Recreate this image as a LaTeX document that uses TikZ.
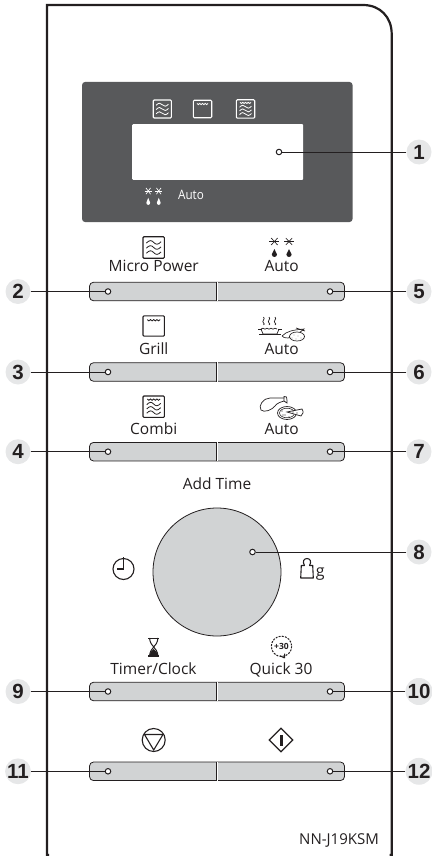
\documentclass[tikz,border=0pt]{standalone}
\usepackage{fontspec}
\setmainfont{Open Sans}
\newfontfamily\numfont{Liberation Sans}
\usetikzlibrary{shapes.geometric}
\definecolor{ink}{HTML}{231F20}
\definecolor{panelgrey}{HTML}{58595B}
\definecolor{keygrey}{HTML}{D1D3D4}
\definecolor{tagg}{HTML}{E6E7E8}
\newcommand{\wavy}[3]{% x, y, half width
  \draw[line width=.8pt] ({#1-#3},{#2+.6}) .. controls ({#1-#3*.6},{#2-2.2}) and ({#1-#3*.3},{#2-2.2}) .. ({#1},{#2}) .. controls ({#1+#3*.3},{#2+2.2}) and ({#1+#3*.6},{#2+2.2}) .. ({#1+#3},{#2-.6});}
\newcommand{\zigzag}[2]{% grill element
  \draw[line width=.85pt] ({#1-6},{#2}) -- ++(1.5,1.2) -- ++(1.5,-1.2) -- ++(1.5,1.2) -- ++(1.5,-1.2) -- ++(1.5,1.2) -- ++(1.5,-1.2) -- ++(1.5,1.2) -- ++(1.5,-1.2);}
\tikzset{
  x=1pt,y=-1pt,
  pics/microicon/.style={code={
    \draw[line width=1.1pt,rounded corners=1pt,pic actions] (-9.5,-9.5) rectangle (9.5,9.5);
    \begin{scope}[pic actions]\wavy{0}{-4.5}{6.5}\wavy{0}{0}{6.5}\wavy{0}{4.5}{6.5}\end{scope}}},
  pics/grillicon/.style={code={
    \draw[line width=1.1pt,rounded corners=1pt,pic actions] (-10,-9.5) rectangle (10,9.5);
    \begin{scope}[pic actions]\zigzag{0}{-6}\end{scope}}},
  pics/combiicon/.style={code={
    \draw[line width=1.1pt,rounded corners=1pt,pic actions] (-10,-10) rectangle (10,10);
    \begin{scope}[pic actions]\zigzag{0}{-7.2}\wavy{0}{-2.5}{6.5}\wavy{0}{1.5}{6.5}\wavy{0}{5.5}{6.5}\end{scope}}},
  pics/autoicon/.style={code={
    \begin{scope}[pic actions]
    \foreach \s in {-1,1}{
      \draw[line width=.65pt] ({\s*7.3-5},-5.5) -- ({\s*7.3+5},-5.5);
      \draw[line width=.65pt] ({\s*7.3-3.2},-9) -- ({\s*7.3+3.2},-2);
      \draw[line width=.65pt] ({\s*7.3+3.2},-9) -- ({\s*7.3-3.2},-2);
      \fill ({\s*7.3},2) -- ({\s*7.3+2.6},7.4) arc (0:180:2.6) -- cycle;
    }
    \end{scope}}},
  tagnode/.style={circle,fill=tagg,minimum size=25pt,inner sep=0pt,text=ink,font=\numfont\bfseries\fontsize{20.5}{20.5}\selectfont},
  dotnode/.style={circle,draw=ink,fill=white,line width=1pt,minimum size=5.5pt,inner sep=0pt},
  keybar/.style={draw=ink,fill=keygrey,rounded corners=4pt,line width=.8pt,minimum width=255pt,minimum height=18.5pt,inner sep=0pt},
  keysplit/.style={draw=ink,line width=.6pt,double=white,double distance=.6pt},
  lab/.style={text=ink,inner sep=0pt,anchor=base,font=\fontsize{15.5}{15.5}\selectfont},
  leader/.style={draw=ink,line width=1pt},
}
\begin{document}
\begin{tikzpicture}
\useasboundingbox (0,0) rectangle (431,856);
% panel
\draw[ink,line width=2.2pt] (49,855) -- (47,855) -- (47,5) -- (363,5) .. controls (380,5) and (391.7,17) .. (391.7,34) -- (391.7,855) -- (389.7,855);
% display
\node[fill=panelgrey,rounded corners=3pt,minimum width=270.5pt,minimum height=140pt,inner sep=0pt] (disp) at (217.3,152) {};
\node[fill=white,rounded corners=.8pt,minimum width=171pt,minimum height=55.5pt,inner sep=0pt] (screen) at (217.7,152) {};
\pic[draw=white,white,scale=.95] at (162.3,109) {microicon};
\pic[draw=white,white,scale=.92] at (202.5,109) {grillicon};
\pic[draw=white,white,scale=.92] at (245.5,109) {combiicon};
\pic[draw=white,fill=white,white,xscale=.72,yscale=.9] at (153.5,196) {autoicon};
\node[text=white,inner sep=0pt,anchor=base,font=\fontsize{13}{13}\selectfont,xscale=.9] (autod) at (191,199.3) {Auto};
% keys
\foreach \n/\y in {a/291.5,b/372,c/451.7,d/691.5,e/771.3}{
  \node[keybar] (key\n) at (217,\y) {};
  \draw[keysplit] (key\n.north) -- (key\n.south);
}
% dial
\node[circle,draw=ink,fill=keygrey,line width=.8pt,minimum size=128pt,inner sep=0pt] (dial) at (217,572) {};
% labels
\node[lab] (t1) at (153.7,271.7) {Micro Power};
\node[lab] (t2) at (153.7,354) {Grill};
\node[lab] (t3) at (153.7,434) {Combi};
\node[lab] (t4) at (281.7,271.7) {Auto};
\node[lab] (t5) at (281.7,354) {Auto};
\node[lab] (t6) at (281.7,434) {Auto};
\node[lab] (t7) at (217,489.3) {Add Time};
\node[lab] (t8) at (153.5,674) {Timer/Clock};
\node[lab] (t9) at (281,674) {Quick 30};
\node[lab,anchor=base east,font=\fontsize{15}{15}\selectfont] (t10) at (379,844.3) {NN-J19KSM};
% button icons
\pic[ink,draw=ink,scale=1.13] at (153.7,247.5) {microicon};
\pic[ink,draw=ink,scale=1.07] at (153.7,326) {grillicon};
\pic[ink,draw=ink,scale=1.07] at (153.7,406.7) {combiicon};
\pic[ink,draw=ink,fill=ink] at (281.7,247) {autoicon};
% steam + pan + vegetables
\begin{scope}[ink]
\foreach \x in {263.5,269,275}{
  \draw[line width=.7pt] (\x,317) .. controls (\x+2.5,319) and (\x-2.5,321) .. (\x,323) .. controls (\x+1,324) .. (\x,325);}
\draw[line width=.8pt] (258,329) -- (262,329);\draw[line width=.8pt] (278,329) -- (282,329);
\draw[line width=.7pt] (261,329) -- ++(2,-.8) -- ++(2,1) -- ++(2,-1) -- ++(2,1) -- ++(2,-1) -- ++(2,1) -- ++(2,-1) -- ++(2,.8);
\draw[line width=.7pt] (261,329) -- (263,334) -- (277,334) -- (279,329);
\draw[line width=1pt] (259,334.5) -- (281,334.5);
\draw[line width=.65pt] (282,336) .. controls (287,331) and (293,330) .. (304,329) .. controls (300,333) and (292,337) .. (288,338) .. controls (285,338) and (283,337.5) .. (282,336);
\draw[line width=.65pt] (296,328) -- (305,331);
\draw[line width=.65pt,fill=white] (297,336.5) ellipse [x radius=7.5,y radius=4.5];
\foreach \a/\b in {294/335,298/336,301/338,296/339,292/338}{\fill (\a,\b) circle (.4);}
\end{scope}
% chicken leg + pizza
\begin{scope}[ink]
\draw[line width=.7pt] (284,398) -- (270,398) .. controls (263,398) and (258,406) .. (261,410) .. controls (264,413) and (272,410) .. (275,406) .. controls (277,403) and (281,402) .. (284,401);
\draw[line width=.7pt] (284,401) -- (287,403) -- (287,400.5) -- (286.5,397) -- (284,396.5) -- cycle;
\draw[line width=.7pt,fill=white] (287,413) ellipse [x radius=9.5,y radius=6.5];
\draw[line width=.55pt] (287,413) ellipse [x radius=7.5,y radius=4.8];
\draw[line width=.7pt,fill=white] (287,412) -- (302,409) .. controls (304,412) and (303,414) .. (301,416) -- cycle;
\foreach \a/\b in {282/411,285/415,289/417,283/415,293/412,297/413}{\fill (\a,\b) circle (.6);}
\end{scope}
% clock
\node[circle,draw=ink,line width=1.1pt,minimum size=21pt,inner sep=0pt] (clock) at (123.5,569) {};
\draw[ink,line width=1.1pt] (123.5,557) -- (123.5,569) -- (117,569);
% weight
\begin{scope}[ink]
\draw[line width=1.1pt,line join=round] (300.7,578) -- (301.3,565.5) -- (304.5,565.5) .. controls (302,561.5) and (304,558.5) .. (307,558.5) .. controls (310,558.5) and (312,561.5) .. (309.5,565.5) -- (312.7,565.5) -- (313.3,578) -- cycle;
\node[inner sep=0pt,anchor=base,font=\fontsize{16}{16}\selectfont\rmfamily,text=ink] (gram) at (320.3,576) {g};
\end{scope}
% hourglass
\begin{scope}[ink]
\draw[line width=1.5pt] (148.3,638.4) -- (159,638.4);
\draw[line width=1.5pt] (148.3,656) -- (159,656);
\draw[line width=1pt] (149.5,638) .. controls (150,643) and (152,645) .. (153.7,647) .. controls (155.4,645) and (157.5,643) .. (158,638);
\draw[line width=1pt] (149.5,656) .. controls (150,651) and (152,649) .. (153.7,647) .. controls (155.4,649) and (157.5,651) .. (158,656);
\fill (149.7,656) .. controls (150,652) and (152,650.5) .. (153.7,649) .. controls (155.4,650.5) and (157.5,652) .. (157.8,656) -- cycle;
\end{scope}
% quick 30
\draw[ink,line width=1pt,dash pattern=on 2pt off 1.2pt] (281.5,646.3) circle (10.2);
\node[text=ink,inner sep=0pt,font=\bfseries\fontsize{8.5}{8.5}\selectfont] (plus) at (281.5,646.3) {+30};
\draw[ink,line width=1pt] (284.5,658) -- (284.5,653.5) (284.5,658) -- (280,655.8);
% stop + start
\node[circle,draw=ink,line width=1.1pt,minimum size=23pt,inner sep=0pt] (stop) at (153.7,740) {};
\draw[ink,line width=1.1pt,line join=miter] (144.5,734.5) -- (163,734.5) -- (153.7,750) -- cycle;
\node[diamond,draw=ink,line width=1.2pt,minimum size=24pt,inner sep=0pt] (go) at (281,740) {};
\fill[ink] (279.5,734.5) rectangle (282.5,745.5);
% dots
\foreach \n/\x/\y in {1/279/152,2/108/291.5,3/108/372,4/108/451.7,5/330/291.5,6/330/372,7/330/451.7,8/252.5/552,9/108/691.5,10/330/691.5,11/108/771.3,12/330/771.3}{
  \node[dotnode] (dot\n) at (\x,\y) {};
}
% tags
\node[tagnode] (tag1) at (419,152) {1};
\node[tagnode] (tag2) at (18,291.5) {2};
\node[tagnode] (tag3) at (18,372) {3};
\node[tagnode] (tag4) at (18,451.7) {4};
\node[tagnode] (tag5) at (419,291.5) {5};
\node[tagnode] (tag6) at (419,372) {6};
\node[tagnode] (tag7) at (419,451.7) {7};
\node[tagnode] (tag8) at (419,552) {8};
\node[tagnode] (tag9) at (18,691.5) {9};
\node[tagnode] (tag10) at (419,691.5) {10};
\node[tagnode] (tag11) at (18,771.3) {11};
\node[tagnode] (tag12) at (419,771.3) {12};
\foreach \n in {1,...,12}{\draw[leader] (tag\n) -- (dot\n);}
\end{tikzpicture}
\end{document}
